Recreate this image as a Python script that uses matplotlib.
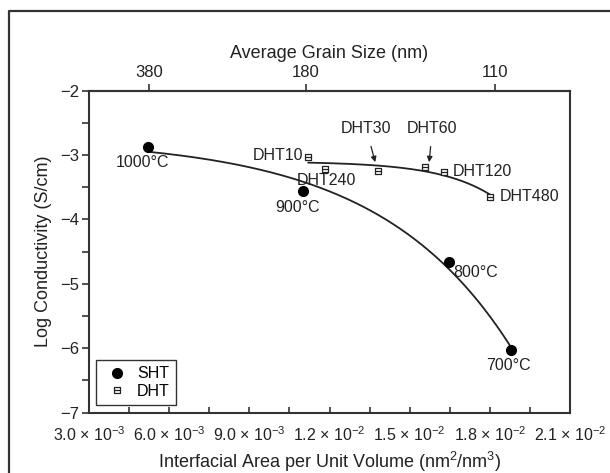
import numpy as np
import matplotlib
matplotlib.use("Agg")
import matplotlib.pyplot as plt
from matplotlib.path import Path
from matplotlib.lines import Line2D

plt.rcParams['font.family'] = ['Liberation Sans', 'DejaVu Sans']
plt.rcParams['mathtext.fontset'] = 'custom'
plt.rcParams['mathtext.rm'] = 'Liberation Sans'
plt.rcParams['mathtext.it'] = 'Liberation Sans'

# ---- data ----
sht_labels = ['1000°C', '900°C', '800°C', '700°C']
sht_x = [5.22e-3, 11.0e-3, 16.48e-3, 18.79e-3]
sht_y = [-2.87, -3.56, -4.655, -6.03]

dht_labels = ['DHT10', 'DHT240', 'DHT30', 'DHT60', 'DHT120', 'DHT480']
dht_x = [11.21e-3, 11.84e-3, 13.8e-3, 15.58e-3, 16.3e-3, 18.02e-3]
dht_y = [-3.03, -3.22, -3.25, -3.18, -3.26, -3.65]

xticks = [3.0e-3, 6.0e-3, 9.0e-3, 1.2e-2, 1.5e-2, 1.8e-2, 2.1e-2]
xticklabels = ['3.0 × 10$^{-3}$', '6.0 × 10$^{-3}$', '9.0 × 10$^{-3}$',
               '1.2 × 10$^{-2}$', '1.5 × 10$^{-2}$', '1.8 × 10$^{-2}$',
               '2.1 × 10$^{-2}$']
yticks = [-7, -6, -5, -4, -3, -2]
grain_ticks = [380, 180, 110]
grain_k = 2.0  # area per volume (nm^-1) = k / grain size (nm)

C = '#222222'

fig = plt.figure(figsize=(6.1, 4.73), dpi=100)
ax = fig.add_axes([89/610, 1-412.7/473, (570-89)/610, (412.7-90.7)/473])

# outer frame
fig.add_artist(Line2D([9.3/610, 9.3/610, 1.0], [0.0, 1-10.7/473, 1-10.7/473],
                      transform=fig.transFigure, color='#333333', lw=1.6))

# least-squares fit of y = a - b*exp(c*x) to each series
def fit(xs, ys, cgrid):
    xs = np.asarray(xs) * 1e3
    ys = np.asarray(ys)
    best = None
    for c in np.atleast_1d(cgrid):
        A = np.column_stack([np.ones_like(xs), -np.exp(c * xs)])
        coef, *_ = np.linalg.lstsq(A, ys, rcond=None)
        r = np.sum((A @ coef - ys) ** 2)
        if best is None or r < best[0]:
            best = (r, c, coef)
    _, c, (a, b) = best
    xx = np.linspace(xs.min(), xs.max(), 200)
    return xx / 1e3, a - b * np.exp(c * xx)

fx, fy = fit(sht_x, sht_y, np.linspace(0.02, 1.5, 1500))
ax.plot(fx, fy, color=C, lw=1.3, zorder=2)
gx, gy = fit(dht_x, dht_y, 0.5)
ax.plot(gx, gy, color=C, lw=1.3, zorder=2)

sq = Path([(-1, -1), (1, -1), (1, 1), (-1, 1), (-1, -1), (-1, 0), (1, 0)],
          [Path.MOVETO, Path.LINETO, Path.LINETO, Path.LINETO, Path.CLOSEPOLY,
           Path.MOVETO, Path.LINETO])

ax.plot(sht_x, sht_y, 'o', color='black', ms=7, zorder=3, label='SHT')
ax.plot(dht_x, dht_y, ls='none', marker=sq, ms=5, mfc='white', mec=C, mew=0.9,
        zorder=3, label='DHT')

fs = 11.5
# labels
ax.text(5.02e-3, -3.12, sht_labels[0], ha='center', va='center', fontsize=fs, color=C)
ax.text(10.79e-3, -3.81, sht_labels[1], ha='center', va='center', fontsize=fs, color=C)
ax.text(16.62e-3, -4.83, sht_labels[2], ha='left', va='center', fontsize=fs, color=C)
ax.text(18.69e-3, -6.27, sht_labels[3], ha='center', va='center', fontsize=fs, color=C)

ax.text(11.01e-3, -3.01, dht_labels[0], ha='right', va='center', fontsize=fs, color=C)
ax.text(10.79e-3, -3.39, dht_labels[1], ha='left', va='center', fontsize=fs, color=C)
ax.text(16.62e-3, -3.26, dht_labels[4], ha='left', va='center', fontsize=fs, color=C)
ax.text(18.36e-3, -3.65, dht_labels[5], ha='left', va='center', fontsize=fs, color=C)
ax.annotate(dht_labels[2], xy=(13.71e-3, -3.11), xytext=(13.37e-3, -2.58),
            ha='center', va='center', fontsize=fs, color=C,
            arrowprops=dict(arrowstyle='-|>', color=C, lw=0.9, shrinkA=6, shrinkB=0,
                            mutation_scale=8))
ax.annotate(dht_labels[3], xy=(15.73e-3, -3.11), xytext=(15.85e-3, -2.58),
            ha='center', va='center', fontsize=fs, color=C,
            arrowprops=dict(arrowstyle='-|>', color=C, lw=0.9, shrinkA=6, shrinkB=0,
                            mutation_scale=8))

ax.set_xlim(3.0e-3, 2.1e-2)
ax.set_ylim(-7, -2)
ax.set_xticks(xticks)
ax.set_xticklabels(xticklabels)
ax.set_xticks(np.arange(4.5e-3, 2.1e-2, 3e-3), minor=True)
ax.set_yticks(yticks)
ax.set_yticklabels([f'\u2212{abs(v)}' for v in yticks])
ax.set_yticks(np.arange(-6.5, -2, 1.0), minor=True)

ax.tick_params(axis='x', which='both', direction='in', length=4, width=1.1, colors=C,
               labelsize=11.5, pad=9, top=False)
ax.tick_params(axis='y', which='both', direction='out', length=5, width=1.1, colors=C,
               labelsize=12, pad=2, right=False)
for s in ax.spines.values():
    s.set_linewidth(1.5)
    s.set_color('#333333')

ax.set_xlabel('Interfacial Area per Unit Volume (nm$^2$/nm$^3$)', fontsize=13, color=C, labelpad=4)
ax.set_ylabel('Log Conductivity (S/cm)', fontsize=13, color=C, labelpad=6)

def conv(v):
    v = np.asarray(v, dtype=float)
    with np.errstate(divide='ignore', invalid='ignore'):
        return grain_k / np.where(np.abs(v) < 1e-12, 1e-12, v)

sec = ax.secondary_xaxis('top', functions=(conv, conv))
sec.set_xticks(grain_ticks)
sec.set_xticklabels([str(v) for v in grain_ticks])
sec.minorticks_off()
sec.tick_params(axis='x', which='both', direction='out', length=5, width=1.1, colors=C,
                labelsize=12, pad=3)
sec.spines['top'].set_linewidth(1.5)
sec.spines['top'].set_color('#333333')
sec.set_xlabel('Average Grain Size (nm)', fontsize=13, color=C, labelpad=5)

leg = ax.legend(loc='lower left', bbox_to_anchor=(0.0146, 0.024), borderaxespad=0,
                fancybox=False, edgecolor='#333333', fontsize=11.5, handletextpad=0.36,
                borderpad=0.4, labelspacing=0.15, handlelength=1.8, framealpha=1)
leg.get_frame().set_linewidth(1.0)

fig.savefig('out.png', dpi=100)
